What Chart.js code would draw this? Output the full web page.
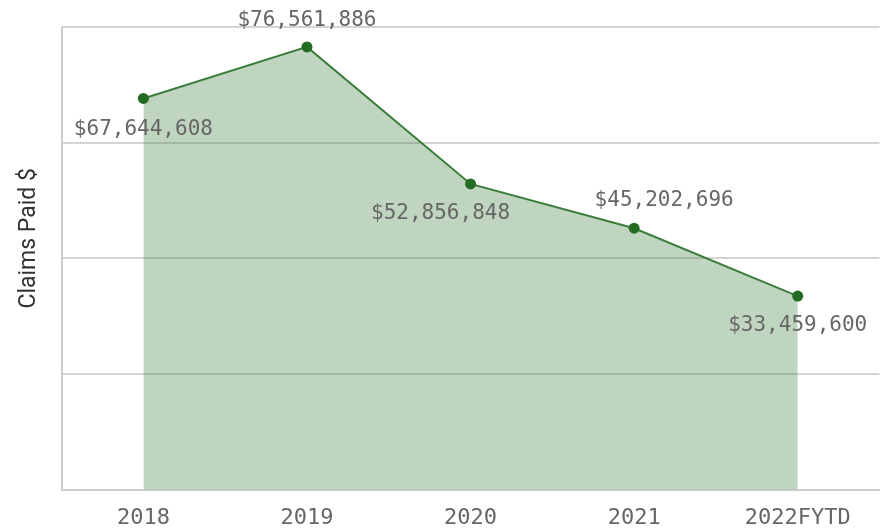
<!DOCTYPE html>
<html>
<head>
<meta charset="utf-8">
<script src="https://cdn.jsdelivr.net/npm/chart.js@4/dist/chart.umd.min.js"></script>
<style>
  html, body { margin: 0; padding: 0; background: #fff; }
  #wrap { width: 885px; height: 529px; }
</style>
</head>
<body>
<div id="wrap"><canvas id="claims-chart"></canvas></div>
<script>
// Data
const years = ['2018', '2019', '2020', '2021', '2022FYTD'];
const claimsPaid = [67644608, 76561886, 52856848, 45202696, 33459600];

// Label placement per point (offset from the point, px)
const labelDx = [0, 0, -30, 30, 0];
const labelDy = [31, -26, 30, -28, 29];

const monoFont = '"DejaVu Sans Mono", "Liberation Mono", monospace';

const formatMoney = (v) => '$' + v.toLocaleString('en-US');

const valueLabels = {
    id: 'valueLabels',
    afterDatasetsDraw(chart) {
        const ctx = chart.ctx;
        const meta = chart.getDatasetMeta(0);
        ctx.save();
        ctx.font = '21px ' + monoFont;
        ctx.fillStyle = '#666';
        ctx.textAlign = 'center';
        ctx.textBaseline = 'middle';
        meta.data.forEach((pt, i) => {
            ctx.fillText(formatMoney(claimsPaid[i]), pt.x + labelDx[i], pt.y + labelDy[i]);
        });
        ctx.restore();
    }
};

new Chart(document.getElementById('claims-chart').getContext('2d'), {
    type: 'line',
    data: {
        labels: years,
        datasets: [{
            label: 'Claims Paid $',
            data: claimsPaid,
            borderColor: '#3b7d3b',
            borderWidth: 2,
            backgroundColor: 'rgba(64, 128, 64, 0.33)',
            fill: 'origin',
            tension: 0,
            pointRadius: 5.5,
            pointBackgroundColor: '#246b24',
            pointBorderColor: '#246b24',
            pointBorderWidth: 0
        }]
    },
    options: {
        responsive: true,
        maintainAspectRatio: false,
        animation: false,
        layout: { padding: { top: 27, right: 5, bottom: -17, left: 15 } },
        plugins: {
            legend: { display: false },
            tooltip: { enabled: false }
        },
        scales: {
            x: {
                offset: true,
                grid: { display: false, drawTicks: false },
                border: { color: '#cccccc', width: 2 },
                ticks: {
                    color: '#666',
                    padding: 15,
                    font: { family: monoFont, size: 22 }
                }
            },
            y: {
                min: 0,
                max: 80000000,
                ticks: { display: false, stepSize: 20000000 },
                grid: { color: '#d4d4d4', lineWidth: 2, drawTicks: false },
                border: { color: '#cccccc', width: 2 },
                title: {
                    display: true,
                    // leading spaces nudge the rotated title upward
                    text: '       Claims Paid $',
                    color: '#333',
                    padding: { top: 0, bottom: 19 },
                    font: { family: 'Roboto, sans-serif', size: 23 }
                }
            }
        }
    },
    plugins: [valueLabels]
});
</script>
</body>
</html>
